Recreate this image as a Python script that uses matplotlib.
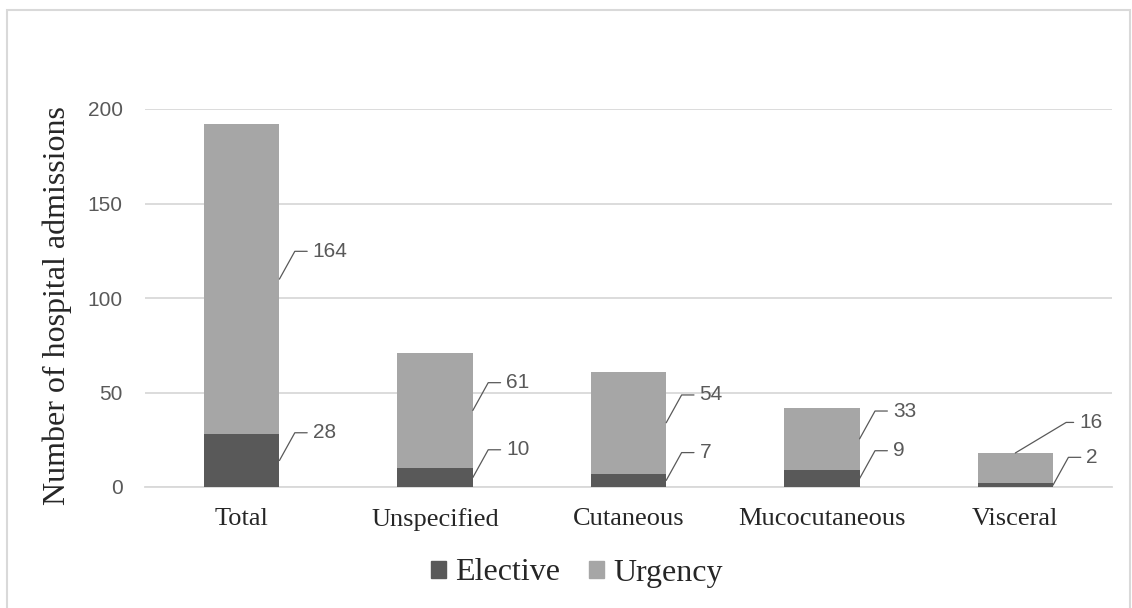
import matplotlib
matplotlib.use("Agg")
import matplotlib.pyplot as plt
from matplotlib.patches import Patch, Rectangle
import numpy as np

categories = ["Total", "Unspecified", "Cutaneous", "Mucocutaneous", "Visceral"]
elective = [28, 10, 7, 9, 2]
urgency = [164, 61, 54, 33, 16]
yticks = [0, 50, 100, 150, 200]

C_EL = "#595959"
C_UR = "#a6a6a6"
GRID = "#d9d9d9"
LBL = "#595959"

fig = plt.figure(figsize=(11.32, 6.08), dpi=100)
ax = fig.add_axes([145/1132, 1-487/608, (1112-145)/1132, (487-109)/608])

x = np.arange(len(categories))
w = 0.39
ax.bar(x, elective, width=w, color=C_EL, zorder=3)
ax.bar(x, urgency, bottom=elective, width=w, color=C_UR, zorder=3)

ax.set_xlim(-0.5, len(categories)-0.5)
ax.set_ylim(0, 200)
ax.set_yticks(yticks)
ax.yaxis.grid(True, color=GRID, lw=1.3, zorder=0)
ax.set_axisbelow(True)
for s in ["top", "right", "left"]:
    ax.spines[s].set_visible(False)
ax.spines["bottom"].set_color(GRID)
ax.spines["bottom"].set_linewidth(1.3)
ax.tick_params(axis="both", length=0)
ax.tick_params(axis="y", pad=16, labelsize=15, labelcolor=LBL)
ax.tick_params(axis="x", pad=15, labelsize=19, labelcolor="#262626")
for t in ax.get_yticklabels():
    t.set_fontfamily("Liberation Sans")
ax.set_xticks(x)
ax.set_xticklabels(categories, fontfamily="Liberation Serif")

def label(xa, ya, text, dx, dy, angB):
    ax.annotate(text, xy=(xa, ya), xytext=(dx, dy), textcoords="offset points",
                ha="left", va="center", fontsize=15, color=LBL,
                fontfamily="Liberation Sans",
                arrowprops=dict(arrowstyle="-", color=LBL, lw=0.9,
                                shrinkA=2, shrinkB=0,
                                connectionstyle=f"angle,angleA=0,angleB={angB},rad=0"),
                zorder=5)

for i in range(len(categories)):
    xr = x[i] + w/2
    e = elective[i]
    u = urgency[i]
    label(xr, e/2, str(e), 24, 20, 61)
    if u < 20:
        label(x[i], e+u, str(u), 46, 22, 31)
    else:
        label(xr, e+u/2, str(u), 24, 20, 61)

fig.text(57/1132, 1-306/608, "Number of hospital admissions", rotation=90,
         ha="center", va="center", fontsize=23, fontfamily="Liberation Serif",
         color="#262626")

handles = [Patch(color=C_EL, label="Elective"), Patch(color=C_UR, label="Urgency")]
leg = fig.legend(handles=handles, loc="center", bbox_to_anchor=(577/1132, 1-573/608),
                 ncol=2, frameon=False, handlelength=0.45, handleheight=0.45,
                 handletextpad=0.3, columnspacing=0.9,
                 prop={"family": "Liberation Serif", "size": 23})
for t in leg.get_texts():
    t.set_color("#262626")

fig.patches.append(Rectangle((7/1132, -0.01), (1130-7)/1132, 1-10/608+0.01,
                             transform=fig.transFigure, fill=False,
                             edgecolor=GRID, lw=1.5))

fig.savefig("out.png", dpi=100)
